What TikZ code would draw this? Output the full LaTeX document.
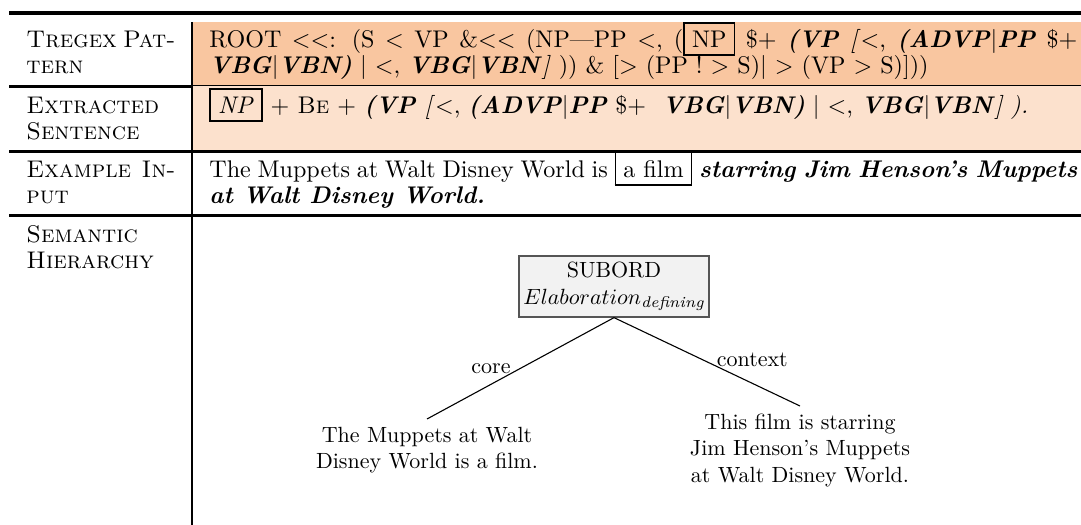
\documentclass[tikz,border=0pt]{standalone}
\usepackage{xcolor}
\usepackage{amsmath}
\definecolor{rowA}{RGB}{249,198,160}
\definecolor{rowB}{RGB}{252,225,205}
\definecolor{boxfill}{RGB}{242,242,242}
\definecolor{boxline}{RGB}{85,85,85}
\newcommand{\bi}[1]{\textbf{\textit{#1}}}
\setlength{\fboxrule}{0.8pt}
\setlength{\fboxsep}{3.2pt}
\begin{document}
\begin{tikzpicture}[x=0.4545pt,y=-0.4545pt,
  lbl/.style={anchor=base west, inner sep=0pt, font=\fontsize{10.95}{13.6}\selectfont},
  treebox/.style={draw=boxline, fill=boxfill, line width=0.6pt, align=center,
    minimum width=83.6pt, minimum height=27.7pt, inner sep=2pt},
  leaf/.style={align=center, anchor=north},
  edge/.style={line width=0.5pt},
  elabel/.style={inner sep=0pt}]
\useasboundingbox (0,0) rectangle (1081,525);
% row fills
\fill[rowA] (192,22) rectangle (1081,85.5);
\fill[rowB] (192,85.5) rectangle (1081,150);
% rules
\fill[black] (9,11) rectangle (1081,15);
\fill[black] (9,85) rectangle (192,88);
\draw[line width=0.5pt] (192,85.5) -- (1081,85.5);
\fill[black] (9,150) rectangle (1081,152.5);
\fill[black] (9,214) rectangle (1081,217);
\draw[line width=0.5pt] (192,22) -- (192,150);
\draw[line width=0.9pt] (192,150) -- (192,525);
% left column
\node[lbl] (l1a) at (26,47) {\makebox[67.7pt][s]{\textsc{Tregex Pat-}}};
\node[lbl] (l1b) at (26,73) {\textsc{tern}};
\node[lbl] (l2a) at (26,113) {\textsc{Extracted}};
\node[lbl] (l2b) at (26,139) {\textsc{Sentence}};
\node[lbl] (l3a) at (26,177) {\makebox[67.7pt][s]{\textsc{Example In-}}};
\node[lbl] (l3b) at (26,203) {\textsc{put}};
\node[lbl] (l4a) at (26,242) {\textsc{Semantic}};
\node[lbl] (l4b) at (26,268) {\textsc{Hierarchy}};
% right column
\node[lbl] (r1a) at (209,47) {\makebox[394.5pt][s]{ROOT $<<$: (S $<$ VP \&$<<$ (NP\textemdash PP $<$, (\fbox{NP} \$+ \bi{(VP} \textit{[}$<$, \bi{(ADVP}$|$\bi{PP} \$+}};
\node[lbl] (r1b) at (209,73) {\bi{VBG}$|$\bi{VBN)} $|$ $<$, \bi{VBG}$|$\bi{VBN}\textit{]} )) \& [$>$ (PP ! $>$ S)$|$ $>$ (VP $>$ S)]))};
\node[lbl] (r2) at (209,113) {\fbox{\textit{NP}} + \textsc{Be} + \bi{(VP} \textit{[}$<$, \bi{(ADVP}$|$\bi{PP} \$+\ \ \bi{VBG}$|$\bi{VBN)} $|$ $<$, \bi{VBG}$|$\bi{VBN}\textit{] ).}};
\node[lbl] (r3a) at (209,177) {\makebox[394.5pt][s]{The Muppets at Walt Disney World is \fbox{a film} \bi{starring Jim Henson's Muppets}}};
\node[lbl] (r3b) at (209,203) {\bi{at Walt Disney World.}};
% tree
\node[treebox] (root) at (614,286.5) {SUBORD\\$Elaboration_{\text{\itshape defining}}$};
\node[leaf] (core) at (427,419) {The Muppets at Walt\\Disney World is a film.};
\node[leaf] (ctx) at (800,406) {This film is starring\\Jim Henson's Muppets\\at Walt Disney World.};
\draw[edge] (root.south) -- node[elabel, pos=0.55, anchor=base east] (lcore) {core} (core.north);
\draw[edge] (root.south) -- node[elabel, pos=0.55, anchor=base west] (lctx) {context} (ctx.north);
\end{tikzpicture}
\end{document}
